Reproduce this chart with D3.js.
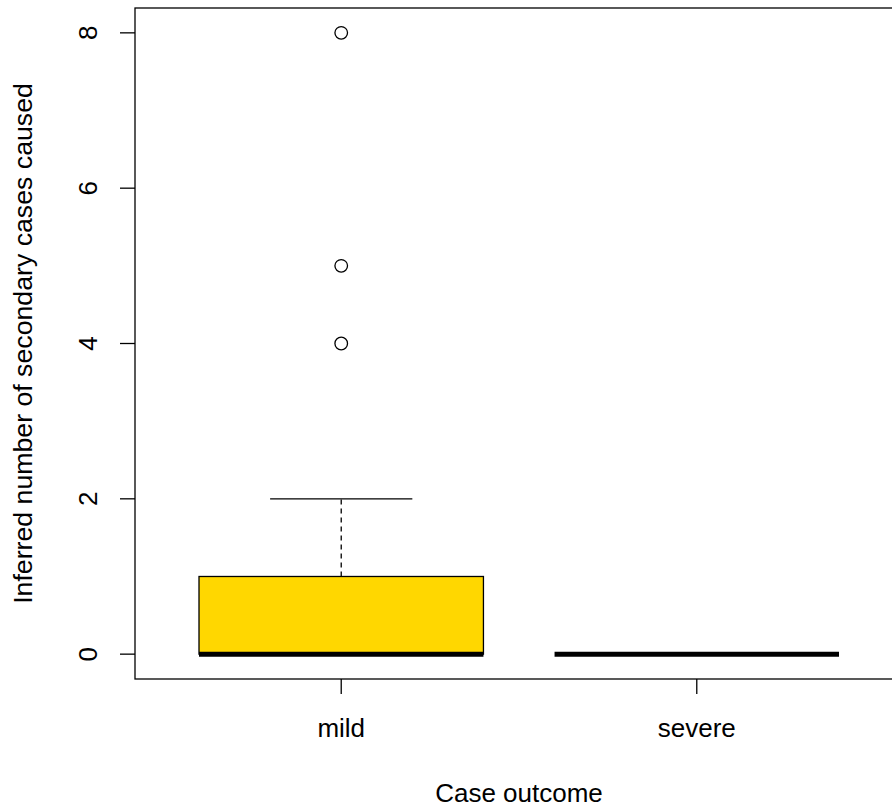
<!DOCTYPE html>
<html><head><meta charset="utf-8">
<script src="https://cdn.jsdelivr.net/npm/d3@7"></script>
<style>body{margin:0;background:#fff}svg{display:block}text{font-family:"Liberation Sans",Arial,sans-serif;}</style>
</head><body>
<svg id="c" width="892" height="810"></svg>
<script>
const categories = ["mild", "severe"];
const q1 = [0, 0];
const medians = [0, 0];
const q3 = [1, 0];
const whiskerLow = [0, 0];
const whiskerHigh = [2, 0];
const outliers = [[4, 5, 8], []];
const boxColors = ["#FFD700", "#FFD700"];
const yTicks = [0, 2, 4, 6, 8];
const xTitle = "Case outcome";
const yTitle = "Inferred number of secondary cases caused";

const svg = d3.select("#c");
const L = 135, R = 903, T = 8, B = 679;
const x = d3.scaleLinear().domain([0.42, 2.58]).range([L, R]);
const y = d3.scaleLinear().domain([-0.32, 8.32]).range([B, T]);
const bw = 0.4, sw = 0.2;
const lw = 1.3;
const fs = 26;

categories.forEach((c, i) => {
  const xi = i + 1;
  const g = svg.append("g");
  g.append("line").attr("x1", x(xi)).attr("x2", x(xi)).attr("y1", y(q3[i])).attr("y2", y(whiskerHigh[i]))
    .attr("stroke", "#000").attr("stroke-width", lw).attr("stroke-dasharray", "5,4");
  g.append("line").attr("x1", x(xi)).attr("x2", x(xi)).attr("y1", y(q1[i])).attr("y2", y(whiskerLow[i]))
    .attr("stroke", "#000").attr("stroke-width", lw).attr("stroke-dasharray", "5,4");
  [whiskerHigh[i], whiskerLow[i]].forEach(v => {
    g.append("line").attr("x1", x(xi - sw)).attr("x2", x(xi + sw)).attr("y1", y(v)).attr("y2", y(v))
      .attr("stroke", "#000").attr("stroke-width", lw);
  });
  g.append("rect").attr("x", x(xi - bw)).attr("width", x(xi + bw) - x(xi - bw))
    .attr("y", y(q3[i])).attr("height", y(q1[i]) - y(q3[i]))
    .attr("fill", boxColors[i]).attr("stroke", "#000").attr("stroke-width", lw);
  g.append("line").attr("x1", x(xi - bw)).attr("x2", x(xi + bw)).attr("y1", y(medians[i])).attr("y2", y(medians[i]))
    .attr("stroke", "#000").attr("stroke-width", 5);
  outliers[i].forEach(v => {
    g.append("circle").attr("cx", x(xi)).attr("cy", y(v)).attr("r", 6.3)
      .attr("fill", "none").attr("stroke", "#000").attr("stroke-width", lw);
  });
});

svg.append("rect").attr("x", L).attr("y", T).attr("width", R - L).attr("height", B - T)
  .attr("fill", "none").attr("stroke", "#000").attr("stroke-width", lw);

yTicks.forEach(t => {
  svg.append("line").attr("x1", L - 15).attr("x2", L).attr("y1", y(t)).attr("y2", y(t))
    .attr("stroke", "#000").attr("stroke-width", lw);
  svg.append("text").attr("transform", `translate(97,${y(t)}) rotate(-90)`)
    .attr("text-anchor", "middle").attr("font-size", fs).text(t);
});
categories.forEach((c, i) => {
  svg.append("line").attr("x1", x(i + 1)).attr("x2", x(i + 1)).attr("y1", B).attr("y2", B + 15)
    .attr("stroke", "#000").attr("stroke-width", lw);
  svg.append("text").attr("x", x(i + 1)).attr("y", 737).attr("text-anchor", "middle")
    .attr("font-size", fs).text(c);
});
svg.append("text").attr("x", (L + R) / 2).attr("y", 802).attr("text-anchor", "middle")
  .attr("font-size", fs).text(xTitle);
svg.append("text").attr("transform", `translate(32,${(T + B) / 2}) rotate(-90)`)
  .attr("text-anchor", "middle").attr("font-size", 26.7).text(yTitle);
</script>
</body></html>
